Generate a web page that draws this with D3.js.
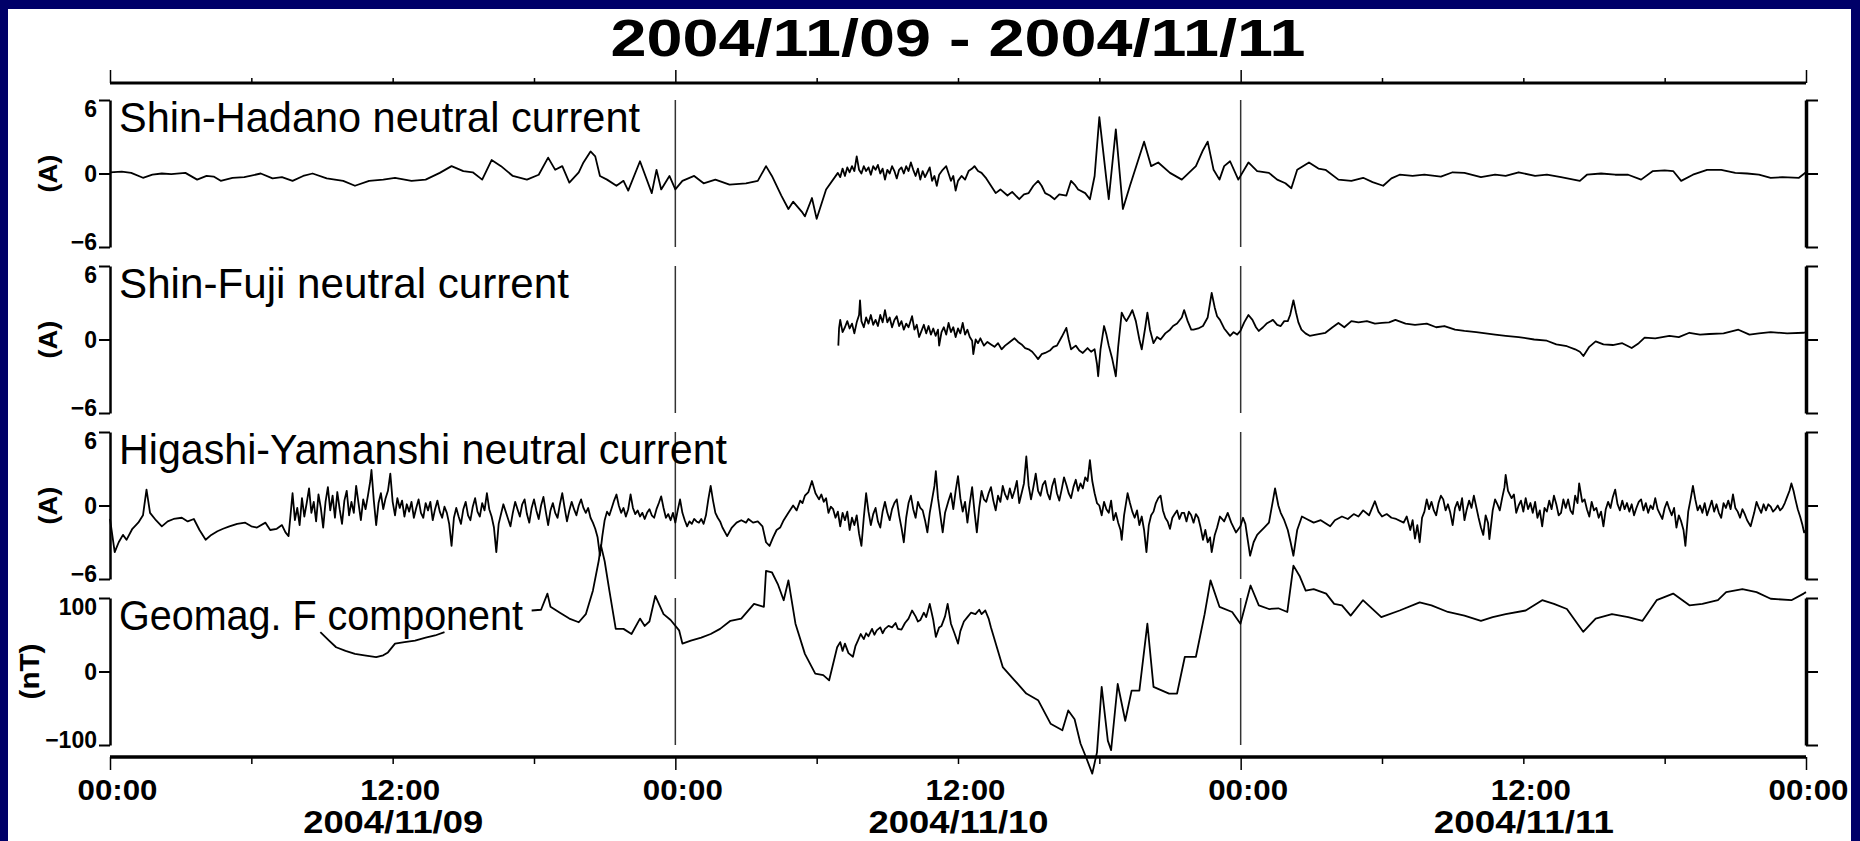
<!DOCTYPE html>
<html><head><meta charset="utf-8">
<script src="https://cdn.jsdelivr.net/npm/d3@7"></script>
<style>html,body{margin:0;padding:0;background:#000068;} svg{display:block}</style>
</head><body><svg id="chart" width="1860" height="841"></svg>
<script>
// ---------- data ----------
const titleText = "2004/11/09 - 2004/11/11";
const panelNames = ["Shin-Hadano neutral current", "Shin-Fuji neutral current", "Higashi-Yamanshi neutral current", "Geomag. F component"];
const unitLabels = ["(A)", "(A)", "(A)", "(nT)"];
const currentTicks = [-6, 0, 6];
const geomagTicks = [-100, 0, 100];
const timeTickHours = [0, 12, 24, 36, 48, 60, 72];
const timeTickLabels = ["00:00", "12:00", "00:00", "12:00", "00:00", "12:00", "00:00"];
const dateTickHours = [12, 36, 60];
const dateLabels = ["2004/11/09", "2004/11/10", "2004/11/11"];
const minorTickHours = [6, 12, 18, 30, 36, 42, 54, 60, 66];
const dayTickHours = [0, 24, 48, 72];
const dayLineHours = [24, 48];

// [hours since 2004/11/09 00:00, value]
const shinHadano = [[0,0.1],[0.5,0.15],[0.9,0.05],[1.4,-0.35],[1.8,-0.1],[2.2,0.0],[2.6,-0.05],[3.2,0.05],[3.7,-0.5],[4.1,-0.2],[4.4,-0.25],[4.7,-0.6],[5.2,-0.35],[5.7,-0.3],[6.4,0.0],[6.9,-0.4],[7.3,-0.3],[7.75,-0.6],[8.2,-0.2],[8.6,0.0],[9.2,-0.4],[9.9,-0.6],[10.4,-1.0],[11.0,-0.6],[11.6,-0.5],[12.1,-0.35],[12.8,-0.6],[13.4,-0.5],[14.0,0.05],[14.5,0.6],[15.0,0.2],[15.4,0.1],[15.8,-0.5],[16.2,1.1],[16.6,0.6],[17.1,-0.2],[17.7,-0.5],[18.2,-0.1],[18.6,1.3],[18.9,0.3],[19.2,0.6],[19.5,-0.75],[19.9,0.1],[20.1,0.9],[20.4,1.8],[20.6,1.4],[20.8,-0.2],[21.1,-0.5],[21.5,-1.0],[21.8,-0.6],[22.0,-1.4],[22.5,1.0],[23.0,-1.6],[23.2,0.3],[23.4,-1.3],[23.75,-0.2],[24.0,-1.3],[24.3,-0.6],[24.8,-0.2],[25.2,-0.8],[25.7,-0.5],[26.3,-0.9],[27.0,-0.8],[27.5,-0.6],[27.85,0.6],[28.1,-0.2],[28.5,-1.8],[28.8,-2.9],[29.0,-2.3],[29.4,-3.2],[29.5,-3.5],[29.8,-2.0],[30.0,-3.7],[30.4,-1.3],[30.9,0.05],[31.0,-0.3],[31.1,0.4],[31.2,-0.2],[31.3,0.5],[31.4,0.1],[31.5,0.6],[31.6,0.2],[31.7,1.4],[31.8,0.3],[31.9,0.0],[32.0,0.6],[32.1,0.2],[32.2,0.5],[32.3,-0.1],[32.4,0.6],[32.5,0.3],[32.6,0.7],[32.7,0.0],[32.8,0.4],[32.9,-0.5],[33.0,0.3],[33.1,0.0],[33.2,0.6],[33.3,0.2],[33.4,-0.4],[33.5,0.3],[33.6,0.5],[33.7,0.0],[33.8,0.6],[33.9,0.2],[34.0,0.9],[34.1,0.3],[34.2,-0.2],[34.3,0.4],[34.4,-0.5],[34.5,0.2],[34.6,-0.3],[34.7,0.1],[34.8,0.5],[34.9,-0.6],[35.0,-0.2],[35.1,-1.0],[35.2,-0.1],[35.35,0.3],[35.5,0.6],[35.6,0.0],[35.7,-0.6],[35.8,-0.2],[35.9,-1.4],[36.0,-0.6],[36.15,-0.2],[36.3,-0.5],[36.45,0.2],[36.6,0.4],[36.7,0.6],[36.85,0.2],[37.0,0.05],[37.2,-0.4],[37.4,-1.0],[37.6,-1.6],[37.8,-1.3],[38.1,-1.8],[38.3,-1.5],[38.6,-2.1],[38.8,-1.7],[39.0,-1.6],[39.2,-1.0],[39.4,-0.6],[39.55,-1.0],[39.7,-1.6],[39.9,-1.8],[40.1,-2.1],[40.3,-1.7],[40.6,-1.8],[40.8,-0.6],[40.95,-0.9],[41.1,-1.3],[41.4,-1.6],[41.6,-2.1],[41.8,-0.2],[42.0,4.6],[42.3,-0.5],[42.4,-2.1],[42.7,3.6],[43.0,-2.9],[43.3,-1.0],[43.9,2.6],[44.2,0.6],[44.5,0.9],[45.0,0.05],[45.5,-0.5],[45.8,0.05],[46.1,0.6],[46.4,1.9],[46.6,2.6],[46.85,0.3],[47.1,-0.5],[47.3,0.6],[47.55,1.0],[47.9,-0.5],[48.33,0.9],[48.7,0.2],[49.2,0.05],[49.55,-0.5],[49.9,-0.8],[50.15,-1.2],[50.4,0.3],[50.9,0.9],[51.3,0.4],[51.6,0.3],[52.15,-0.5],[52.7,-0.6],[53.2,-0.35],[53.6,-0.7],[54.05,-1.0],[54.4,-0.4],[54.75,-0.1],[55.3,-0.2],[55.8,-0.1],[56.5,-0.25],[57.0,0.1],[57.5,0.05],[58.2,-0.3],[58.8,-0.1],[59.25,-0.2],[59.8,0.1],[60.5,-0.2],[61.0,-0.1],[61.6,-0.3],[62.4,-0.6],[62.7,-0.1],[63.3,0.0],[63.9,-0.1],[64.45,-0.1],[65.0,-0.5],[65.5,0.2],[66.0,0.25],[66.36,0.2],[66.7,-0.6],[67.2,-0.1],[67.8,0.3],[68.4,0.3],[69.0,0.05],[69.5,0.0],[70.0,-0.1],[70.5,-0.35],[71.0,-0.3],[71.7,-0.35],[72.0,0.1]];

const shinFuji = [[30.92,-0.5],[30.95,0.9],[31.0,1.6],[31.1,0.6],[31.2,1.0],[31.3,1.5],[31.4,0.9],[31.5,1.3],[31.6,0.5],[31.7,1.4],[31.8,2.0],[31.84,3.2],[31.9,1.5],[32.0,1.0],[32.1,1.8],[32.2,1.3],[32.3,2.0],[32.4,1.2],[32.5,1.6],[32.6,1.1],[32.7,2.0],[32.8,1.4],[32.9,2.4],[33.0,1.4],[33.1,1.8],[33.2,1.0],[33.3,1.6],[33.4,1.9],[33.5,1.1],[33.6,1.5],[33.7,0.8],[33.8,1.3],[33.9,1.0],[34.0,1.6],[34.05,1.9],[34.15,0.8],[34.25,1.2],[34.35,0.2],[34.45,0.7],[34.55,1.2],[34.65,0.5],[34.75,1.1],[34.85,0.4],[34.95,0.9],[35.05,0.3],[35.15,0.8],[35.2,-0.5],[35.3,0.6],[35.4,1.0],[35.5,0.4],[35.6,1.35],[35.7,0.6],[35.8,1.0],[35.9,0.2],[36.0,0.9],[36.1,0.5],[36.2,1.35],[36.3,0.4],[36.4,0.8],[36.5,0.2],[36.6,-0.1],[36.65,-1.2],[36.75,0.0],[36.85,-0.3],[36.95,0.1],[37.1,-0.5],[37.25,-0.2],[37.4,-0.4],[37.55,-0.6],[37.7,-0.3],[37.85,-0.8],[38.0,-0.5],[38.2,-0.2],[38.4,0.1],[38.55,-0.2],[38.7,-0.4],[38.85,-0.7],[39.0,-0.8],[39.15,-1.0],[39.3,-1.35],[39.4,-1.6],[39.55,-1.2],[39.7,-1.1],[39.9,-0.9],[40.05,-0.6],[40.2,-0.5],[40.4,0.2],[40.6,0.95],[40.7,0.0],[40.8,-0.8],[41.0,-0.5],[41.15,-0.9],[41.3,-1.1],[41.5,-0.7],[41.65,-1.0],[41.8,-0.8],[41.9,-2.0],[41.95,-3.0],[42.05,-0.8],[42.2,1.1],[42.3,0.4],[42.4,-0.5],[42.55,-1.6],[42.7,-3.0],[42.8,-0.6],[42.95,2.2],[43.05,1.8],[43.15,1.5],[43.3,2.0],[43.4,2.4],[43.55,1.5],[43.7,0.0],[43.8,-0.8],[43.95,1.0],[44.04,2.2],[44.15,0.8],[44.3,-0.3],[44.45,0.2],[44.6,0.0],[44.8,0.5],[45.0,0.8],[45.13,1.1],[45.3,1.3],[45.5,1.8],[45.6,2.4],[45.75,1.5],[45.9,0.8],[46.0,0.8],[46.2,0.9],[46.4,1.1],[46.6,1.8],[46.77,3.8],[46.9,2.6],[47.0,1.9],[47.12,1.6],[47.3,0.9],[47.55,0.3],[47.7,0.6],[47.85,0.4],[47.99,0.7],[48.15,1.4],[48.33,2.0],[48.5,1.6],[48.65,1.0],[48.77,0.7],[48.95,1.0],[49.1,1.3],[49.37,1.6],[49.55,1.2],[49.7,1.1],[49.85,1.5],[50.0,1.5],[50.1,2.0],[50.24,3.2],[50.35,2.2],[50.45,1.4],[50.58,0.8],[50.75,0.5],[50.93,0.3],[51.2,0.4],[51.6,0.55],[51.9,1.0],[52.15,1.35],[52.4,1.0],[52.7,1.5],[53.0,1.4],[53.36,1.5],[53.7,1.3],[54.0,1.35],[54.3,1.4],[54.57,1.6],[55.0,1.3],[55.4,1.2],[55.9,1.3],[56.3,1.0],[56.65,1.1],[57.1,0.8],[57.5,0.7],[58.0,0.6],[58.4,0.5],[58.8,0.4],[59.25,0.3],[59.8,0.2],[60.46,0.0],[61.0,-0.1],[61.4,-0.4],[61.85,-0.55],[62.2,-0.8],[62.4,-1.0],[62.55,-1.35],[62.8,-0.6],[63.07,-0.15],[63.4,-0.4],[63.8,-0.45],[64.2,-0.3],[64.6,-0.7],[64.9,-0.3],[65.15,0.15],[65.6,0.1],[66.2,0.3],[66.6,0.2],[67.05,0.55],[67.5,0.4],[67.9,0.45],[68.5,0.5],[69.13,0.8],[69.6,0.4],[70.0,0.5],[70.5,0.6],[71.2,0.5],[71.9,0.55],[72.0,0.6]];

const higashiYamanshi = [[0.0,-1.1],[0.2,-3.8],[0.37,-3.0],[0.55,-2.4],[0.7,-2.8],[0.95,-1.9],[1.2,-1.4],[1.4,-0.8],[1.55,1.3],[1.7,-0.6],[1.95,-1.2],[2.2,-1.7],[2.45,-1.3],[2.7,-1.1],[3.05,-1.0],[3.3,-1.3],[3.56,-1.1],[3.8,-2.0],[4.06,-2.8],[4.3,-2.4],[4.56,-2.1],[4.8,-1.9],[5.07,-1.7],[5.4,-1.5],[5.74,-1.4],[6.0,-1.7],[6.24,-1.8],[6.6,-1.4],[6.8,-2.0],[7.08,-1.9],[7.3,-1.6],[7.45,-2.2],[7.58,-2.5],[7.75,1.0],[7.85,-1.2],[7.95,-0.2],[8.05,-1.6],[8.15,0.6],[8.25,-0.9],[8.35,0.2],[8.45,1.4],[8.55,-0.6],[8.65,0.3],[8.75,-1.3],[8.85,0.9],[8.95,-0.2],[9.05,-1.8],[9.15,0.3],[9.25,1.5],[9.35,-0.4],[9.45,0.8],[9.55,-1.0],[9.65,1.1],[9.75,-0.3],[9.85,-1.5],[9.95,0.4],[10.05,1.2],[10.15,-0.8],[10.25,0.3],[10.35,-0.6],[10.45,1.6],[10.55,0.2],[10.65,-1.2],[10.75,0.5],[10.85,-0.3],[10.95,0.8],[11.05,2.0],[11.1,2.9],[11.2,0.4],[11.3,-1.6],[11.4,0.2],[11.5,1.0],[11.6,-0.3],[11.7,0.6],[11.8,1.2],[11.9,2.6],[12.0,0.3],[12.1,-0.8],[12.2,0.6],[12.3,-0.2],[12.4,0.4],[12.5,-0.9],[12.6,0.1],[12.7,-0.5],[12.8,0.3],[12.9,-1.0],[13.0,-0.2],[13.1,0.5],[13.2,-0.6],[13.3,-1.0],[13.4,0.2],[13.5,-0.4],[13.6,0.3],[13.7,-1.2],[13.8,-0.3],[13.9,0.4],[14.0,-0.5],[14.1,-1.0],[14.2,-0.1],[14.3,-0.6],[14.4,-1.5],[14.5,-3.3],[14.6,-1.0],[14.7,-0.2],[14.8,-0.9],[14.9,-1.5],[15.0,-0.3],[15.1,0.3],[15.2,-0.8],[15.3,-1.2],[15.4,-0.1],[15.5,0.6],[15.6,-0.5],[15.7,-0.9],[15.8,0.2],[15.9,-0.4],[16.0,1.0],[16.1,-0.3],[16.2,-0.9],[16.3,-1.8],[16.4,-3.8],[16.5,-1.5],[16.6,-0.7],[16.7,0.1],[16.8,-0.5],[16.9,-1.1],[17.0,-1.7],[17.1,-0.6],[17.2,0.3],[17.3,-0.3],[17.4,-0.9],[17.5,0.1],[17.6,0.5],[17.7,-0.7],[17.8,-1.4],[17.9,-0.2],[18.0,0.5],[18.1,-0.4],[18.2,-1.1],[18.3,0.0],[18.4,0.7],[18.5,-0.5],[18.6,-1.6],[18.7,-0.4],[18.8,0.2],[18.9,-0.6],[19.0,-1.0],[19.1,0.1],[19.2,1.0],[19.3,-0.2],[19.4,-1.3],[19.5,-0.4],[19.6,0.3],[19.7,-0.3],[19.8,-0.8],[19.9,0.0],[20.0,0.5],[20.1,-0.2],[20.2,-0.6],[20.3,-0.2],[20.4,-1.0],[20.5,-1.4],[20.6,-1.9],[20.7,-2.6],[20.8,-4.1],[20.9,-2.5],[21.0,-1.2],[21.1,-0.5],[21.2,-0.8],[21.3,-0.2],[21.4,0.4],[21.5,0.9],[21.6,0.0],[21.7,-0.6],[21.8,-0.2],[21.9,-0.9],[22.0,-0.3],[22.1,0.9],[22.2,-0.2],[22.3,-0.7],[22.4,-0.4],[22.5,-0.9],[22.6,-0.6],[22.7,-1.1],[22.8,-0.6],[22.9,-0.3],[23.0,-0.8],[23.1,-1.0],[23.2,-0.3],[23.3,0.2],[23.4,0.75],[23.5,-0.2],[23.6,-1.0],[23.7,-0.7],[23.8,-1.2],[23.9,-0.6],[24.0,-1.4],[24.1,-0.4],[24.2,0.5],[24.3,-0.6],[24.4,-1.2],[24.5,-1.7],[24.6,-1.3],[24.7,-1.5],[24.8,-1.1],[24.9,-1.3],[25.0,-1.4],[25.1,-1.1],[25.2,-1.5],[25.3,-0.8],[25.4,0.5],[25.5,1.6],[25.6,0.4],[25.7,-0.6],[25.8,-1.0],[25.9,-1.3],[26.0,-1.8],[26.2,-2.5],[26.4,-1.8],[26.6,-1.4],[26.8,-1.2],[27.0,-1.4],[27.1,-1.1],[27.3,-1.4],[27.5,-1.3],[27.7,-1.7],[27.85,-3.0],[28.0,-3.3],[28.15,-2.6],[28.3,-2.0],[28.45,-1.8],[28.6,-1.2],[28.8,-0.6],[29.0,0.0],[29.15,-0.4],[29.3,0.4],[29.4,0.2],[29.5,0.8],[29.65,1.1],[29.8,2.0],[29.95,1.0],[30.1,0.5],[30.2,0.9],[30.3,0.3],[30.4,0.6],[30.5,-0.6],[30.6,-0.1],[30.7,-0.3],[30.8,-1.0],[30.9,-0.5],[31.0,-1.7],[31.1,-0.6],[31.2,-1.2],[31.3,-0.5],[31.4,-2.0],[31.5,-1.0],[31.6,-1.6],[31.7,-0.8],[31.8,-2.3],[31.9,-3.3],[32.0,-1.0],[32.1,1.0],[32.2,-0.5],[32.3,-1.6],[32.4,-0.7],[32.5,-0.2],[32.6,-1.3],[32.7,-1.8],[32.8,-0.5],[32.9,0.3],[33.0,-0.6],[33.1,-1.2],[33.2,-0.3],[33.3,0.2],[33.4,0.5],[33.5,-0.8],[33.6,-1.8],[33.7,-3.0],[33.8,-1.0],[33.9,0.2],[34.0,0.8],[34.1,-0.3],[34.2,-1.0],[34.3,0.3],[34.4,-0.2],[34.5,-0.4],[34.6,-1.2],[34.7,-2.2],[34.8,-0.6],[34.9,0.5],[35.0,1.6],[35.06,2.8],[35.15,0.6],[35.25,-0.8],[35.35,-2.2],[35.45,-0.6],[35.6,0.4],[35.7,1.0],[35.8,-0.3],[35.9,1.2],[36.0,2.4],[36.1,0.6],[36.2,-0.5],[36.3,0.3],[36.4,-1.4],[36.5,0.2],[36.6,1.5],[36.7,-0.5],[36.8,-2.2],[36.9,-0.2],[37.0,1.2],[37.1,0.5],[37.2,0.3],[37.3,1.0],[37.4,1.5],[37.5,0.4],[37.6,-0.4],[37.7,0.8],[37.8,0.3],[37.9,1.6],[38.0,0.9],[38.1,0.5],[38.2,1.4],[38.3,0.6],[38.4,1.2],[38.5,2.0],[38.6,0.2],[38.7,1.0],[38.8,1.8],[38.9,4.0],[39.0,1.6],[39.1,0.5],[39.2,1.5],[39.3,2.6],[39.4,1.2],[39.5,0.8],[39.6,1.7],[39.7,2.0],[39.8,1.0],[39.9,0.5],[40.0,1.6],[40.1,2.2],[40.2,1.0],[40.3,0.4],[40.4,1.3],[40.5,2.3],[40.6,1.7],[40.7,1.0],[40.8,0.6],[40.9,1.5],[41.0,2.1],[41.1,1.2],[41.2,1.8],[41.3,1.4],[41.4,2.3],[41.5,2.0],[41.6,3.7],[41.7,2.0],[41.8,1.0],[41.9,0.2],[42.0,0.0],[42.1,-0.8],[42.2,0.3],[42.3,-0.3],[42.4,-0.6],[42.5,0.4],[42.6,-1.2],[42.7,-0.6],[42.8,-1.4],[42.9,-2.0],[42.95,-2.8],[43.05,-0.8],[43.15,0.4],[43.2,1.0],[43.3,0.2],[43.4,-0.5],[43.5,-1.0],[43.6,-0.4],[43.7,-1.6],[43.8,-0.9],[43.9,-2.0],[44.0,-3.8],[44.1,-1.6],[44.2,-0.8],[44.3,-0.5],[44.4,0.2],[44.5,0.6],[44.6,0.8],[44.7,-0.4],[44.8,-1.0],[44.9,-1.3],[45.0,-1.9],[45.1,-1.0],[45.2,-0.7],[45.3,-0.4],[45.4,-1.1],[45.5,-0.6],[45.6,-0.6],[45.7,-1.3],[45.8,-0.5],[45.9,-0.8],[46.0,-1.4],[46.1,-0.7],[46.2,-1.0],[46.3,-1.8],[46.4,-2.8],[46.5,-2.0],[46.6,-3.0],[46.7,-2.6],[46.77,-3.8],[46.9,-2.4],[47.0,-1.8],[47.12,-0.9],[47.3,-1.3],[47.45,-0.6],[47.6,-1.4],[47.8,-2.2],[47.99,-1.7],[48.1,-1.0],[48.2,-1.5],[48.3,-2.8],[48.4,-4.1],[48.55,-3.0],[48.7,-2.4],[48.8,-2.2],[49.0,-1.8],[49.2,-1.4],[49.35,0.2],[49.46,1.4],[49.6,0.0],[49.7,-0.6],[49.85,-1.2],[50.0,-2.0],[50.12,-3.0],[50.24,-4.1],[50.4,-2.0],[50.6,-0.9],[50.8,-1.1],[51.1,-1.4],[51.4,-1.2],[51.8,-1.7],[52.0,-1.2],[52.3,-0.9],[52.55,-1.1],[52.8,-0.7],[53.0,-0.9],[53.2,-0.4],[53.45,-0.8],[53.7,0.35],[53.85,-0.5],[54.0,-0.9],[54.2,-0.7],[54.4,-1.0],[54.6,-1.1],[54.92,-1.4],[55.05,-0.9],[55.2,-2.0],[55.3,-1.2],[55.4,-2.7],[55.5,-1.6],[55.6,-3.0],[55.7,-1.0],[55.8,-0.5],[55.9,0.5],[56.0,-0.3],[56.1,0.3],[56.2,-0.4],[56.3,-0.8],[56.4,0.2],[56.5,0.8],[56.6,0.5],[56.7,-0.4],[56.8,0.1],[56.9,-0.6],[57.0,-1.6],[57.1,-0.2],[57.2,0.3],[57.3,-0.4],[57.4,0.6],[57.5,-1.2],[57.6,-0.3],[57.7,0.4],[57.8,-0.2],[57.9,0.8],[58.0,-0.1],[58.1,-1.0],[58.2,-1.8],[58.3,-2.4],[58.4,-0.8],[58.5,-1.4],[58.56,-2.75],[58.7,-0.4],[58.8,0.5],[58.9,0.1],[59.0,-0.4],[59.1,0.6],[59.2,1.5],[59.25,2.5],[59.35,1.2],[59.5,0.6],[59.6,0.9],[59.7,-0.6],[59.8,0.0],[59.9,0.4],[60.0,-0.5],[60.1,0.6],[60.2,-0.3],[60.3,0.2],[60.4,-0.6],[60.5,0.3],[60.6,-1.0],[60.7,-0.4],[60.8,-1.7],[60.9,-0.2],[61.0,-0.5],[61.1,0.4],[61.2,-0.3],[61.3,0.8],[61.4,0.1],[61.5,-0.8],[61.6,-0.6],[61.7,0.5],[61.8,-0.2],[61.9,0.5],[62.0,-0.4],[62.1,-0.7],[62.2,0.8],[62.3,0.2],[62.37,1.8],[62.5,0.3],[62.6,0.5],[62.7,-0.3],[62.8,-0.9],[62.9,0.3],[63.0,-0.4],[63.1,-0.2],[63.2,-1.0],[63.3,-0.5],[63.4,-1.7],[63.5,-0.3],[63.6,0.3],[63.7,-0.2],[63.8,0.7],[63.9,1.3],[64.0,0.1],[64.1,-0.4],[64.2,0.4],[64.3,-0.3],[64.4,0.2],[64.5,-0.5],[64.6,0.1],[64.7,-0.8],[64.8,-0.2],[64.9,0.3],[65.0,0.5],[65.1,-0.4],[65.2,0.2],[65.3,-0.6],[65.4,0.0],[65.5,-0.3],[65.6,0.6],[65.7,-0.3],[65.8,-0.7],[65.9,-1.1],[66.0,-0.2],[66.1,0.3],[66.2,-0.3],[66.3,-0.8],[66.4,-0.2],[66.5,-1.8],[66.6,-0.8],[66.7,-1.3],[66.8,-2.0],[66.88,-3.3],[67.0,-0.5],[67.1,0.5],[67.2,1.6],[67.3,0.5],[67.4,-0.4],[67.5,0.0],[67.6,-0.6],[67.7,0.2],[67.8,-0.8],[67.9,-0.2],[68.0,0.4],[68.1,-0.5],[68.2,0.1],[68.3,-0.6],[68.4,-1.0],[68.5,0.2],[68.6,-0.2],[68.7,0.4],[68.8,-0.3],[68.9,0.9],[69.0,-0.2],[69.1,-0.5],[69.2,-1.0],[69.3,-0.3],[69.4,-0.7],[69.5,-1.2],[69.65,-1.7],[69.8,-0.6],[69.9,0.3],[70.0,-0.2],[70.1,-0.6],[70.2,0.1],[70.3,-0.4],[70.4,0.1],[70.5,-0.1],[70.6,-0.5],[70.7,-0.3],[70.8,0.0],[70.9,-0.4],[71.0,-0.2],[71.1,0.2],[71.2,0.7],[71.3,1.2],[71.38,1.8],[71.47,1.2],[71.55,0.5],[71.65,-0.3],[71.75,-0.9],[71.85,-1.6],[71.92,-2.2],[72.0,-2.0]];

const geomagF = [[8.93,53.5],[9.3,42],[9.6,33],[10.0,28],[10.4,24],[10.8,22],[11.3,19.5],[11.6,22],[11.8,26],[12.1,38],[12.5,40],[12.95,42],[13.4,46],[13.8,49],[14.2,53.5],[16.0,null],[17.9,83],[18.3,84],[18.57,106],[18.7,88],[19.1,80],[19.5,72],[19.9,67],[20.2,78],[20.5,110],[20.75,151],[20.84,172],[21.0,150],[21.2,110],[21.47,58],[21.8,58],[22.14,51],[22.5,72],[22.7,62],[22.9,68],[23.15,103],[23.5,78],[23.8,70],[24.16,56],[24.3,38],[24.66,42],[25.1,46],[25.5,51],[25.9,58],[26.34,69],[26.8,72],[27.34,92],[27.76,88],[27.85,137],[28.1,135],[28.35,119],[28.6,97],[28.8,124],[29.1,65],[29.5,24],[29.94,-3],[30.28,-5],[30.53,-12],[30.87,33],[31.0,40],[31.1,28],[31.2,38],[31.35,25],[31.54,20],[31.65,35],[31.75,42],[31.87,51],[32.0,44],[32.1,52],[32.2,48],[32.35,58],[32.45,50],[32.55,56],[32.7,60],[32.8,52],[32.9,58],[33.05,62],[33.2,60],[33.35,66],[33.45,58],[33.6,57],[33.75,66],[33.9,72],[34.05,83],[34.2,75],[34.3,68],[34.4,70],[34.55,80],[34.65,74],[34.8,92],[34.95,70],[35.06,47],[35.2,60],[35.3,62],[35.45,75],[35.56,92],[35.7,65],[35.85,52],[36.0,38],[36.1,55],[36.25,68],[36.4,74],[36.55,80],[36.74,78],[36.9,84],[37.0,78],[37.16,83],[37.3,72],[37.4,60],[37.9,6],[38.4,-12],[38.9,-30],[39.4,-39],[39.93,-71],[40.43,-80],[40.68,-53],[40.95,-65],[41.2,-98],[41.44,-117],[41.7,-139],[41.9,-110],[42.1,-21],[42.36,-94],[42.5,-107],[42.78,-17],[43.1,-67],[43.37,-26],[43.7,-26],[44.04,65],[44.3,-21],[44.96,-30],[45.3,-30],[45.63,20],[46.1,20],[46.47,78],[46.72,124],[47.1,88],[47.64,81],[47.99,65],[48.42,117],[48.77,90],[49.2,85],[49.6,86],[49.98,81],[50.24,144],[50.5,130],[50.76,110],[51.1,112],[51.63,106],[51.97,92],[52.3,90],[52.67,76],[53.19,97],[53.5,88],[53.97,74],[54.75,83],[55.6,94],[56.1,90],[56.8,81],[57.5,76],[58.2,69],[58.7,74],[59.25,78],[60.1,83],[60.8,97],[61.3,92],[61.85,85],[62.54,54],[63.07,72],[63.76,78],[64.45,74],[65.06,69],[65.66,97],[66.36,106],[67.05,90],[67.6,92],[68.26,97],[68.61,108],[69.3,112],[69.9,108],[70.5,99],[71.38,97],[71.9,106],[72.0,108]];

const seriesList = [shinHadano, shinFuji, higashiYamanshi, geomagF];
const tickSets = [currentTicks, currentTicks, currentTicks, geomagTicks];
const nameWidths = [521, 450, 608, 404];

// ---------- layout ----------
const svg = d3.select("#chart");
const W = 1860, H = 841;
const left = 110, right = 1806;
const panelTops = [100, 266, 432, 598];
const panelH = 147;
const topAxisY = 83, bottomAxisY = 757;
const boldFont = "'Liberation Sans', Arial, Helvetica, sans-serif";
const narrowFont = "'Liberation Sans Narrow', 'Arial Narrow', 'Liberation Sans', sans-serif";

svg.append("rect").attr("width", W).attr("height", H).attr("fill", "#000068");
svg.append("rect").attr("x", 8).attr("y", 9).attr("width", 1843).attr("height", H - 9).attr("fill", "#ffffff");

const x = d3.scaleLinear().domain([0, 72]).range([left, right]);

// title
svg.append("text").attr("x", (left + right) / 2).attr("y", 56)
  .attr("text-anchor", "middle").attr("font-family", boldFont).attr("font-weight", "bold")
  .attr("font-size", 51).attr("textLength", 695).attr("lengthAdjust", "spacingAndGlyphs")
  .text(titleText);

// top axis
const topG = svg.append("g").attr("transform", `translate(0,${topAxisY})`);
topG.append("line").attr("x1", left).attr("x2", right).attr("stroke", "#000").attr("stroke-width", 3);
{
  const a = d3.axisTop(x).tickValues(minorTickHours).tickSize(5).tickSizeOuter(0).tickFormat("");
  const s = topG.append("g").call(a); s.select(".domain").remove();
  s.selectAll("line").attr("stroke-width", 1.5);
  const b = d3.axisTop(x).tickValues(dayTickHours).tickSize(13).tickSizeOuter(0).tickFormat("");
  const t = topG.append("g").call(b); t.select(".domain").remove();
  t.selectAll("line").attr("stroke-width", 1.5);
}

// bottom axis
const botG = svg.append("g").attr("transform", `translate(0,${bottomAxisY})`);
botG.append("line").attr("x1", left).attr("x2", right).attr("stroke", "#000").attr("stroke-width", 3.5);
{
  const a = d3.axisBottom(x).tickValues(minorTickHours).tickSize(7).tickSizeOuter(0).tickFormat("");
  const s = botG.append("g").call(a); s.select(".domain").remove();
  s.selectAll("line").attr("stroke-width", 1.5);
  const b = d3.axisBottom(x).tickValues(dayTickHours).tickSize(13).tickSizeOuter(0).tickFormat("");
  const t = botG.append("g").call(b); t.select(".domain").remove();
  t.selectAll("line").attr("stroke-width", 1.5);
  const c = d3.axisBottom(x).tickValues(timeTickHours).tickSize(0).tickSizeOuter(0)
    .tickFormat((d, i) => timeTickLabels[i]);
  const u = botG.append("g").call(c); u.select(".domain").remove();
  u.selectAll("text").attr("font-family", boldFont).attr("font-weight", "bold").attr("font-size", 29)
    .attr("fill", "#000").attr("dy", null).attr("y", 43)
    .attr("dx", (d, i) => i === timeTickHours.length - 1 ? 2 : 7)
    .attr("textLength", 80).attr("lengthAdjust", "spacingAndGlyphs");
  const e = d3.axisBottom(x).tickValues(dateTickHours).tickSize(0).tickSizeOuter(0)
    .tickFormat((d, i) => dateLabels[i]);
  const v = botG.append("g").call(e); v.select(".domain").remove();
  v.selectAll("text").attr("font-family", boldFont).attr("font-weight", "bold").attr("font-size", 32)
    .attr("fill", "#000").attr("dy", null).attr("y", 76).attr("dx", 0)
    .attr("textLength", 180).attr("lengthAdjust", "spacingAndGlyphs");
}

// panels
panelTops.forEach((top, i) => {
  const ticks = tickSets[i];
  const bottom = top + panelH;
  const y = d3.scaleLinear().domain([ticks[0], ticks[2]]).range([bottom, top]);
  const g = svg.append("g");

  // day separator lines
  g.selectAll("line.day").data(dayLineHours).join("line").attr("class", "day")
    .attr("x1", d => x(d)).attr("x2", d => x(d)).attr("y1", top).attr("y2", bottom)
    .attr("stroke", "#333").attr("stroke-width", 1.5);

  // left axis
  const la = d3.axisLeft(y).tickValues(ticks).tickSize(11).tickPadding(2).tickSizeOuter(0);
  const lg = g.append("g").attr("transform", `translate(${left},0)`).call(la);
  lg.select(".domain").attr("stroke-width", 2.5);
  lg.selectAll("line").attr("stroke-width", 2);
  lg.selectAll("text").attr("font-family", boldFont).attr("font-weight", "bold").attr("font-size", 23)
    .attr("fill", "#000").attr("dy", (d, j) => j === 2 ? "16px" : (j === 1 ? "8px" : "2px"));

  // right axis
  const ra = d3.axisRight(y).tickValues(ticks).tickSize(12).tickSizeOuter(0).tickFormat("");
  const rg = g.append("g").attr("transform", `translate(${right},0)`).call(ra);
  rg.select(".domain").attr("stroke-width", 3.5);
  rg.selectAll("line").attr("stroke-width", 2);

  // unit label
  const isGeo = i === 3;
  g.append("text").attr("transform", `translate(${isGeo ? 30 : 48},${y(0)}) rotate(-90)`)
    .attr("text-anchor", "middle").attr("dy", "0.35em")
    .attr("font-family", boldFont).attr("font-weight", "bold").attr("font-size", isGeo ? 27 : 25)
    .attr("textLength", isGeo ? 56 : 38).attr("lengthAdjust", "spacingAndGlyphs")
    .text(unitLabels[i]);

  // data line
  const line = d3.line().defined(d => d[1] !== null).x(d => x(d[0])).y(d => y(d[1]));
  g.append("path").datum(seriesList[i]).attr("d", line)
    .attr("fill", "none").attr("stroke", "#000").attr("stroke-width", 1.8).attr("stroke-linejoin", "round");

  // panel name
  g.append("text").attr("x", 119).attr("y", top + 32)
    .attr("font-family", narrowFont).attr("font-size", 43).attr("fill", "#000")
    .attr("textLength", nameWidths[i]).attr("lengthAdjust", "spacingAndGlyphs")
    .text(panelNames[i]);
});
</script></body></html>
